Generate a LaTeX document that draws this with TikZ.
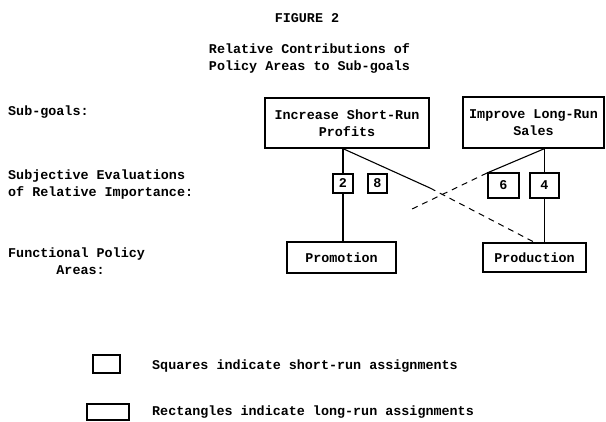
\documentclass[tikz,border=0pt]{standalone}
\usepackage{fontspec}
\setmainfont{Liberation Mono}
\usetikzlibrary{calc}
\tikzset{
	lbl/.style={inner sep=0pt, font=\fontsize{13.4}{17}\selectfont\bfseries},
	goalbox/.style={lbl, draw, line width=1.3pt, align=center},
	areabox/.style={lbl, draw, line width=1.3pt},
	sqbox/.style={lbl, draw, line width=1.1pt},
	link/.style={line width=1.1pt},
	faded/.style={line width=1pt, dash pattern=on 6pt off 5pt}
}

\begin{document}
\begin{tikzpicture}[x=1pt, y=-1pt]
			%%%%% START %%%%%
			\useasboundingbox (0, 0) rectangle (606, 422);
			
			% headings
			\node[lbl] (fig) at (307, 18) {FIGURE 2};
			\node[lbl, align=left] (title) at (309.5, 58) {Relative Contributions of\\Policy Areas to Sub-goals};
			
			% row labels
			\node[lbl, anchor=west] (rowgoal) at (8, 112) {Sub-goals:};
			\node[lbl, anchor=west, align=left] (roweval) at (8, 184.5) {Subjective Evaluations\\of Relative Importance:};
			\node[lbl, anchor=west, align=left] (rowarea) at (8, 261.5) {Functional Policy\\\hphantom{Functi}Areas:};
			
			% sub-goals
			\node[goalbox, minimum width=164pt, minimum height=50pt] (inc) at (347, 123) {Increase Short-Run\\Profits};
			\node[goalbox, minimum width=141pt, minimum height=51pt] (imp) at (533.5, 122.5) {Improve Long-Run\\Sales};
			
			% policy areas
			\node[areabox, minimum width=109pt, minimum height=31pt] (promo) at (341.5, 257.5) {Promotion};
			\node[areabox, minimum width=103pt, minimum height=29pt] (prod) at (534.5, 257.5) {Production};
			
			% evaluations
			\node[sqbox, minimum width=20pt, minimum height=19pt] (two) at (343, 183.5) {2};
			\node[sqbox, minimum width=19pt, minimum height=19pt] (eight) at (377.5, 183.5) {8};
			\node[sqbox, minimum width=31pt, minimum height=25pt] (six) at (503.5, 185.5) {6};
			\node[sqbox, minimum width=29pt, minimum height=25pt] (four) at (544.5, 185.5) {4};
			
			\draw[link] (two.north |- inc.south) -- (two.north);
			\draw[link] (two.south) -- (two.south |- promo.north);
			\draw[link] (four.north |- imp.south) -- (four.north);
			\draw[link] (four.south) -- (four.south |- prod.north);
			
			% crossing lines, faded in the copy
			\coordinate (incbreak) at (430, 188);
			\coordinate (impbreak) at (487, 173);
			\coordinate (impend) at (410, 210);
			\draw[link] (two.north |- inc.south) -- (incbreak);
			\draw[faded] (incbreak) -- (prod.north);
			\draw[link] (four.north |- imp.south) -- (impbreak);
			\draw[faded] (impbreak) -- (impend);
			
			% legend
			\node[sqbox, minimum width=27pt, minimum height=18pt] (keysq) at (106.5, 364) {};
			\node[lbl, anchor=west] (keysqtxt) at (152, 366) {Squares indicate short-run assignments};
			\node[sqbox, minimum width=42pt, minimum height=16pt] (keyrect) at (108, 412) {};
			\node[lbl, anchor=west] (keyrecttxt) at (152, 412) {Rectangles indicate long-run assignments};
			
			%%%%% END %%%%%
\end{tikzpicture}
\end{document}
